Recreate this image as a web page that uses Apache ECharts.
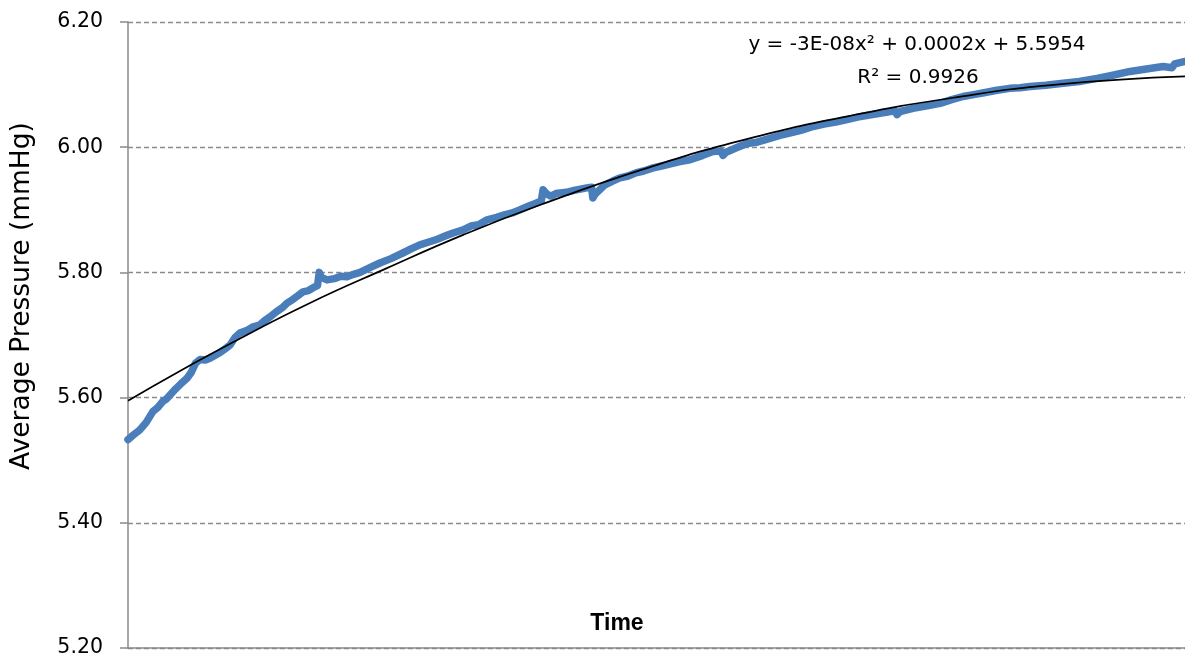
<!DOCTYPE html>
<html>
<head>
<meta charset="utf-8">
<script src="https://cdn.jsdelivr.net/npm/echarts@6/dist/echarts.min.js"></script>
<style>
html,body{margin:0;padding:0;background:#fff;}
#chart{width:1185px;height:661px;}
</style>
</head>
<body>
<div id="chart"></div>
<script>
var time = [0, 20, 45, 70, 97, 115, 135, 150, 163, 185, 205, 229, 245, 262, 280, 300, 318, 340, 357, 380, 396, 415, 434, 460, 485, 510, 530, 551, 575, 600, 617, 640, 660, 679, 700, 720, 735, 742, 750, 772, 800, 825, 849, 875, 900, 940, 977, 1020, 1066, 1100, 1132, 1170, 1200, 1230, 1261, 1300, 1330, 1360, 1393, 1430, 1460, 1490, 1521, 1555, 1580, 1603, 1610, 1625, 1640, 1660, 1676, 1700, 1730, 1755, 1780, 1798, 1803, 1812, 1850, 1880, 1908, 1940, 1970, 2000, 2037, 2070, 2100, 2141, 2180, 2230, 2269, 2300, 2308, 2320, 2360, 2401, 2440, 2480, 2529, 2570, 2610, 2657, 2700, 2745, 2789, 2830, 2870, 2917, 2975, 2983, 2995, 3045, 3100, 3150, 3195, 3239, 3280, 3320, 3371, 3420, 3460, 3499, 3560, 3627, 3690, 3759, 3820, 3887, 3950, 4015, 4050, 4060, 4100];
var pressure = [5.533, 5.540, 5.548, 5.560, 5.578, 5.584, 5.594, 5.598, 5.604, 5.614, 5.622, 5.631, 5.640, 5.655, 5.661, 5.660, 5.663, 5.668, 5.672, 5.679, 5.684, 5.696, 5.703, 5.707, 5.713, 5.716, 5.723, 5.729, 5.737, 5.744, 5.751, 5.757, 5.763, 5.769, 5.771, 5.776, 5.779, 5.800, 5.792, 5.788, 5.790, 5.794, 5.793, 5.797, 5.800, 5.808, 5.815, 5.822, 5.831, 5.838, 5.844, 5.849, 5.853, 5.858, 5.863, 5.868, 5.874, 5.876, 5.884, 5.888, 5.892, 5.895, 5.900, 5.906, 5.910, 5.914, 5.932, 5.925, 5.922, 5.926, 5.927, 5.928, 5.931, 5.933, 5.935, 5.936, 5.919, 5.925, 5.940, 5.946, 5.951, 5.954, 5.959, 5.962, 5.967, 5.970, 5.973, 5.977, 5.980, 5.987, 5.993, 5.994, 5.987, 5.992, 5.999, 6.006, 6.008, 6.013, 6.019, 6.023, 6.027, 6.033, 6.037, 6.040, 6.044, 6.048, 6.051, 6.054, 6.058, 6.052, 6.057, 6.062, 6.066, 6.070, 6.076, 6.081, 6.084, 6.087, 6.091, 6.094, 6.095, 6.097, 6.099, 6.102, 6.105, 6.110, 6.115, 6.121, 6.125, 6.129, 6.127, 6.133, 6.137];

// Polynomial trend line
var trendTime = [0, 200, 400, 700, 1000, 1300, 1600, 2000, 2400, 2800, 3200, 3600, 4100];
var trendValue = [5.595, 5.642, 5.687, 5.750, 5.806, 5.860, 5.908, 5.965, 6.013, 6.050, 6.079, 6.100, 6.113];

// Axis ticks
var yMin = 5.2, yMax = 6.2, yStep = 0.2;
var xMin = 0, xMax = 4100;

var yTitle = 'Average Pressure (mmHg)';
var xTitle = 'Time';
var eqLine1 = 'y = -3E-08x\u00B2 + 0.0002x + 5.5954';
var eqLine2 = 'R\u00B2 = 0.9926';

function zip(a, b) { return a.map(function (v, i) { return [v, b[i]]; }); }

var chart = echarts.init(document.getElementById('chart'), null, { renderer: 'canvas' });
chart.setOption({
  animation: false,
  backgroundColor: '#ffffff',
  grid: { left: 128, right: 0, top: 22, bottom: 13, containLabel: false },
  xAxis: {
    type: 'value', min: xMin, max: xMax,
    axisLine: { show: true, lineStyle: { color: '#8a8a8a', width: 1.5 } },
    axisTick: { show: false },
    axisLabel: { show: false },
    splitLine: { show: false }
  },
  yAxis: {
    type: 'value', min: yMin, max: yMax, interval: yStep,
    axisLine: { show: true, lineStyle: { color: '#8a8a8a', width: 1.5 } },
    axisTick: { show: true, inside: false, length: 8, lineStyle: { color: '#8a8a8a', width: 1.5 } },
    axisLabel: {
      margin: 25, color: '#000', fontFamily: 'DejaVu Sans', fontSize: 20.5,
      formatter: function (v) { return v.toFixed(2); }
    },
    splitLine: { show: true, lineStyle: { color: '#8a8a8a', width: 1.3, type: [5, 3] } }
  },
  series: [
    {
      type: 'line', data: zip(time, pressure), symbol: 'none', smooth: false,
      lineStyle: { color: '#4a7ebb', width: 7.5, cap: 'round', join: 'round' }, z: 2
    },
    {
      type: 'line', data: zip(trendTime, trendValue), symbol: 'none', smooth: true,
      lineStyle: { color: '#000000', width: 1.7 }, z: 3
    }
  ],
  graphic: [
    {
      type: 'text', x: 22, y: 296, rotation: Math.PI / 2,
      style: { text: yTitle, fontFamily: 'DejaVu Sans', fontSize: 26.5, fill: '#000', align: 'center', verticalAlign: 'middle' }
    },
    {
      type: 'text', x: 617, y: 624,
      style: { text: xTitle, fontFamily: 'Liberation Sans', fontWeight: 'bold', fontSize: 23, fill: '#000', align: 'center', verticalAlign: 'middle' }
    },
    {
      type: 'text', x: 917, y: 45,
      style: { text: eqLine1, fontFamily: 'DejaVu Sans', fontSize: 20, fill: '#000', align: 'center', verticalAlign: 'middle' }
    },
    {
      type: 'text', x: 918, y: 78,
      style: { text: eqLine2, fontFamily: 'DejaVu Sans', fontSize: 20, fill: '#000', align: 'center', verticalAlign: 'middle' }
    }
  ]
});
</script>
</body>
</html>
